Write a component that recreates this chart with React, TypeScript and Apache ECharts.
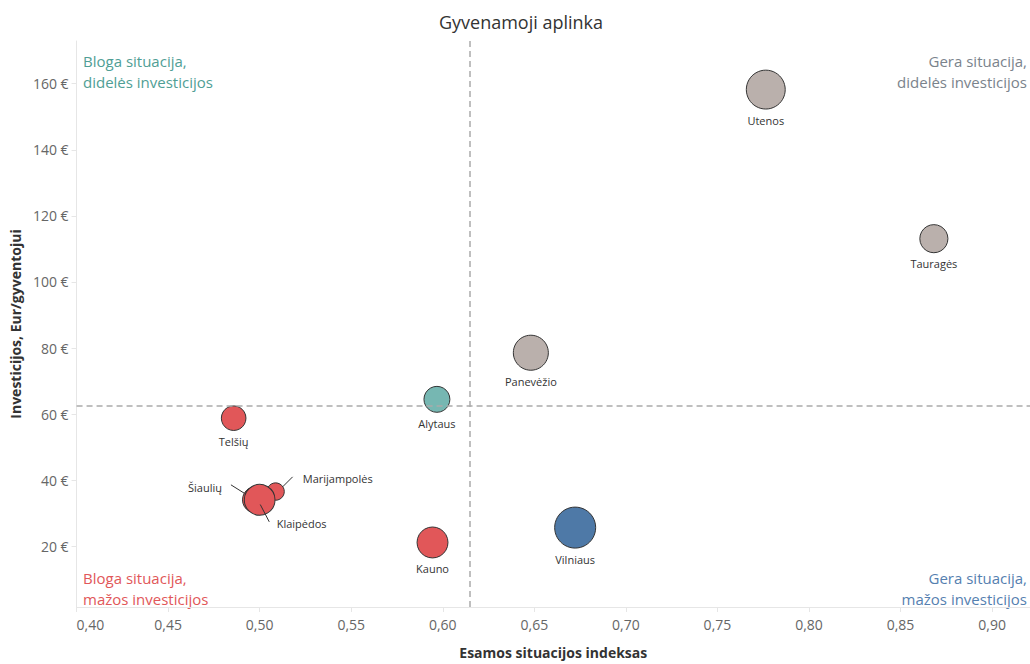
import React, { useEffect, useRef } from "react";
import * as echarts from "echarts";

// ---- Data ----
const regionai = ["Utenos", "Tauragės", "Panevėžio", "Alytaus", "Kauno", "Vilniaus", "Telšių", "Marijampolės", "Šiaulių", "Klaipėdos"];
const indeksas = [0.7764, 0.8682, 0.6481, 0.5968, 0.5944, 0.6723, 0.4858, 0.5087, 0.4977, 0.5000];
const investicijos = [158.2, 113.1, 78.6, 64.5, 21.2, 25.7, 58.8, 36.6, 34.1, 34.1];
const dydis = [90, 47, 73, 40, 57, 100, 36, 18, 40, 56];
const xTicks = [0.40, 0.45, 0.50, 0.55, 0.60, 0.65, 0.70, 0.75, 0.80, 0.85, 0.90];
const yTicks = [20, 40, 60, 80, 100, 120, 140, 160];
const kvadrantuPavadinimai = [
  ["Bloga situacija,", "didelės investicijos"],
  ["Gera situacija,", "didelės investicijos"],
  ["Bloga situacija,", "mažos investicijos"],
  ["Gera situacija,", "mažos investicijos"],
];

const FONT = "'Open Sans', 'Noto Sans', sans-serif";
const COLORS = {
  badHigh: "#76b7b2",
  goodHigh: "#bab0ac",
  badLow: "#e15759",
  goodLow: "#4e79a7",
};
const TEXT_COLORS = {
  badHigh: "#4f9e95",
  goodHigh: "#7a838c",
  badLow: "#e15759",
  goodLow: "#5580b0",
};

// label placement tweaks (style only)
const labelTweaks: Record<string, any> = {
  "Šiaulių": { position: "left", distance: 20, offset: [0, -12] },
  "Marijampolės": { position: "right", distance: 18, offset: [0, -13] },
  "Klaipėdos": { position: "bottom", distance: 2, offset: [42, 0] },
};
// leader line offsets relative to the bubble centre (style only)
const leaderOffsets: Record<string, number[]> = {
  "Šiaulių": [-24.5, -15, -11, -6.5],
  "Marijampolės": [7, -4.7, 17, -14.7],
  "Klaipėdos": [0.6, 4.7, 9.6, 22],
};

export default function App() {
  const ref = useRef<HTMLDivElement>(null);
  useEffect(() => {
    if (!ref.current) return;
    const chart = echarts.init(ref.current, undefined, { renderer: "svg" });
    const avgX = indeksas.reduce((a, b) => a + b, 0) / indeksas.length;
    const avgY = investicijos.reduce((a, b) => a + b, 0) / investicijos.length;
    const maxSize = Math.max(...dydis);

    const data = regionai.map((name, i) => {
      const x = indeksas[i];
      const y = investicijos[i];
      let color = COLORS.goodHigh;
      if (x < avgX && y >= avgY) color = COLORS.badHigh;
      else if (x < avgX && y < avgY) color = COLORS.badLow;
      else if (x >= avgX && y < avgY) color = COLORS.goodLow;
      const item: any = {
        name,
        value: [x, y, dydis[i]],
        itemStyle: { color },
      };
      const tw = labelTweaks[name];
      if (tw) item.label = { ...tw };
      return item;
    });

    const quadText = (i: number, fill: string, side: "left" | "right", top: number) =>
      kvadrantuPavadinimai[i].map((line, j) => ({
        id: `quad${i}_${j}`,
        type: "text",
        [side]: side === "left" ? 83 : 3,
        top: top + j * 21,
        style: { text: line, fontFamily: FONT, fontSize: 15, lineHeight: 21, fill },
      }));

    chart.setOption({
      animation: false,
      textStyle: { fontFamily: FONT },
      title: {
        text: "Gyvenamoji aplinka",
        left: 516,
        top: 8,
        textAlign: "center",
        textStyle: { fontFamily: FONT, fontSize: 18, fontWeight: "normal", color: "#333" },
      },
      grid: { left: 76, right: 0, top: 41, height: 570, containLabel: false },
      xAxis: {
        type: "value",
        min: 0.4,
        max: 0.9207,
        name: "Esamos situacijos indeksas",
        nameLocation: "middle",
        nameGap: 38,
        nameTextStyle: { fontFamily: FONT, fontSize: 14, fontWeight: "bold", color: "#333" },
        axisLine: { show: true, lineStyle: { color: "#e6e6e6", width: 1 } },
        axisTick: { show: true, length: 5, lineStyle: { color: "#e6e6e6" }, customValues: xTicks },
        splitLine: { show: false },
        axisLabel: {
          customValues: xTicks,
          margin: 10,
          fontSize: 14,
          color: "#666",
          fontFamily: FONT,
          alignMinLabel: "left",
          formatter: (v: number) => v.toFixed(2).replace(".", ","),
        },
      },
      yAxis: {
        type: "value",
        min: 1.68,
        max: 172.9,
        name: "Investicijos, Eur/gyventojui",
        nameLocation: "middle",
        nameGap: 52,
        nameTextStyle: { fontFamily: FONT, fontSize: 14, fontWeight: "bold", color: "#333" },
        axisLine: { show: true, lineStyle: { color: "#e6e6e6", width: 1 } },
        axisTick: { show: true, length: 5, lineStyle: { color: "#e6e6e6" }, customValues: yTicks },
        splitLine: { show: false },
        axisLabel: {
          customValues: yTicks,
          margin: 8,
          fontSize: 14,
          color: "#666",
          fontFamily: FONT,
          formatter: (v: number) => `${v} €`,
        },
      },
      series: [
        {
          type: "scatter",
          data,
          symbolSize: (val: number[]) => 41 * Math.sqrt(val[2] / maxSize),
          itemStyle: { borderColor: "#333", borderWidth: 1, opacity: 1 },
          label: {
            show: true,
            position: "bottom",
            distance: 5,
            formatter: "{b}",
            fontFamily: FONT,
            fontSize: 11,
            color: "#333",
          },
          emphasis: { disabled: true },
          markLine: {
            silent: true,
            symbol: "none",
            precision: 6,
            label: { show: false },
            lineStyle: { color: "#aaaaaa", type: [6, 4], width: 1.5 },
            data: [{ xAxis: avgX }, { yAxis: avgY }],
          },
          z: 3,
        },
      ],
      graphic: [
        ...quadText(0, TEXT_COLORS.badHigh, "left", 50),
        ...quadText(1, TEXT_COLORS.goodHigh, "right", 50),
        ...quadText(2, TEXT_COLORS.badLow, "left", 567),
        ...quadText(3, TEXT_COLORS.goodLow, "right", 567),
      ],
    });

    // leader lines, anchored at the bubble centres from the axes
    const lines: any[] = [];
    regionai.forEach((name, i) => {
      const off = leaderOffsets[name];
      if (!off) return;
      const c = chart.convertToPixel({ seriesIndex: 0 }, [indeksas[i], investicijos[i]]) as number[];
      lines.push({
        id: "leader" + i,
        type: "line",
        silent: true,
        z: 10,
        shape: { x1: c[0] + off[0], y1: c[1] + off[1], x2: c[0] + off[2], y2: c[1] + off[3] },
        style: { stroke: "#333", lineWidth: 1 },
      });
    });
    chart.setOption({ graphic: lines });

    return () => chart.dispose();
  }, []);
  return (
    <div
      ref={ref}
      style={{ position: "fixed", left: 0, top: 0, width: 1030, height: 664, background: "#fff" }}
    />
  );
}
